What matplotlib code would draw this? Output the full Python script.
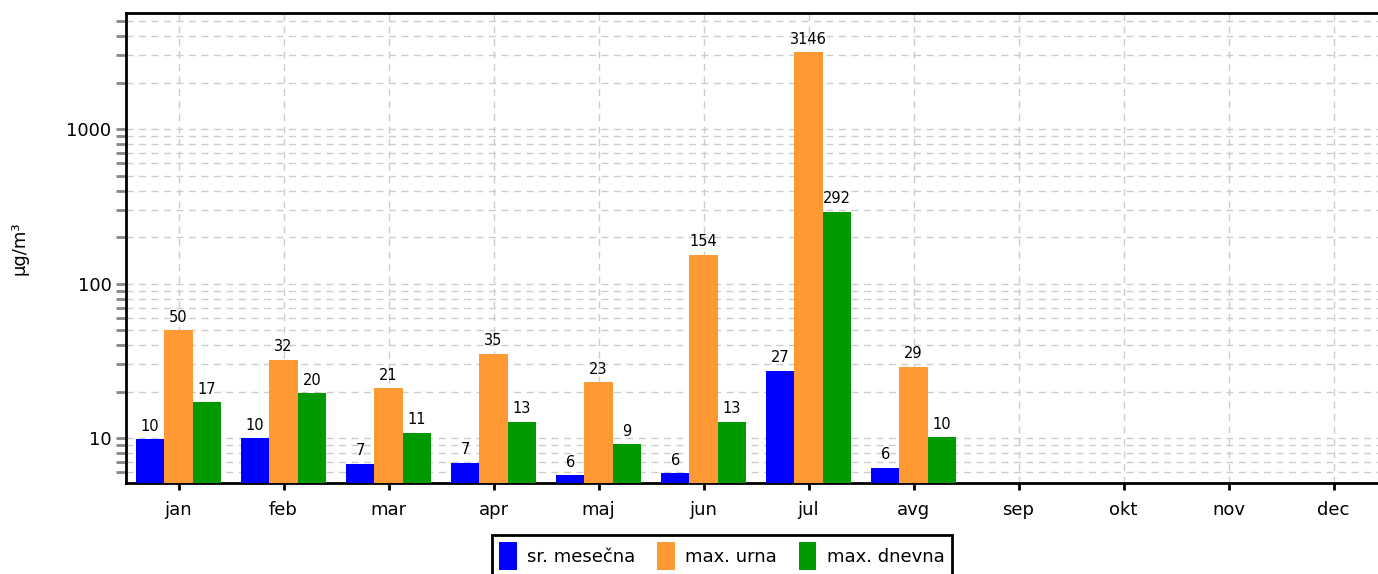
import numpy as np
import matplotlib
matplotlib.use("Agg")
import matplotlib.pyplot as plt
from matplotlib.ticker import LogLocator, FixedLocator, NullFormatter

# data
months = ["jan", "feb", "mar", "apr", "maj", "jun", "jul", "avg",
          "sep", "okt", "nov", "dec"]
sr_mesecna = [9.8, 10.0, 6.8, 6.9, 5.75, 5.9, 27.3, 6.4]
max_urna = [50, 32, 21, 35, 23, 154, 3146, 29]
max_dnevna = [17, 19.5, 10.8, 12.8, 9.1, 12.7, 292, 10.1]
series_names = ["sr. mesečna", "max. urna", "max. dnevna"]
series_colors = ["#0000ff", "#ff9933", "#009900"]
y_ticks = [10, 100, 1000]

plt.rcParams["font.family"] = ["DejaVu Sans"]

fig = plt.figure(figsize=(13.78, 5.74), dpi=100)
ax = fig.add_axes([126 / 1378, 91 / 574, 1260 / 1378, 470 / 574])

x = np.arange(len(months))
bw = 0.27
all_series = [sr_mesecna, max_urna, max_dnevna]
for i, (vals, name, col) in enumerate(zip(all_series, series_names, series_colors)):
    pos = x[:len(vals)] + (i - 1) * bw
    bars = ax.bar(pos, vals, width=bw, color=col, label=name, zorder=3)
    for b, v in zip(bars, vals):
        ax.annotate(f"{round(v)}", (b.get_x() + b.get_width() / 2, v),
                    xytext=(0, 4), textcoords="offset points",
                    ha="center", va="bottom", fontsize=10.5, zorder=4)

ax.set_yscale("log")
ax.set_ylim(5.12, 5640)
ax.set_xlim(-0.5, len(months) - 0.5)
ax.yaxis.set_major_locator(FixedLocator(y_ticks))
ax.set_yticklabels([str(t) for t in y_ticks])
ax.yaxis.set_minor_locator(LogLocator(base=10, subs=np.arange(2, 10)))
ax.yaxis.set_minor_formatter(NullFormatter())
ax.set_xticks(x)
ax.set_xticklabels(months)

ax.tick_params(axis="y", which="both", direction="out", color="#888888",
               length=7, width=2, labelsize=13)
ax.tick_params(axis="x", direction="out", color="black", length=5, width=2,
               labelsize=13, pad=8)

ax.grid(True, which="both", axis="y", color="#cccccc", linestyle=(0, (5, 4)), linewidth=1, zorder=0)
ax.grid(True, which="major", axis="x", color="#cccccc", linestyle=(0, (5, 4)), linewidth=1, zorder=0)
ax.set_axisbelow(True)

for s in ax.spines.values():
    s.set_linewidth(2)
    s.set_color("black")

ax.set_ylabel("µg/m³", fontsize=13)
ax.yaxis.set_label_coords(-98 / 1260, 0.5)

leg = fig.legend(loc="upper center", bbox_to_anchor=(722 / 1378, 1 - 526 / 574),
                 ncol=3, fontsize=13, frameon=True, fancybox=False, framealpha=1,
                 handlelength=0.95, handleheight=1.95, handletextpad=0.6,
                 columnspacing=1.2, borderpad=0.4)
leg.get_frame().set_edgecolor("black")
leg.get_frame().set_linewidth(2)

fig.savefig("out.png", dpi=100)
